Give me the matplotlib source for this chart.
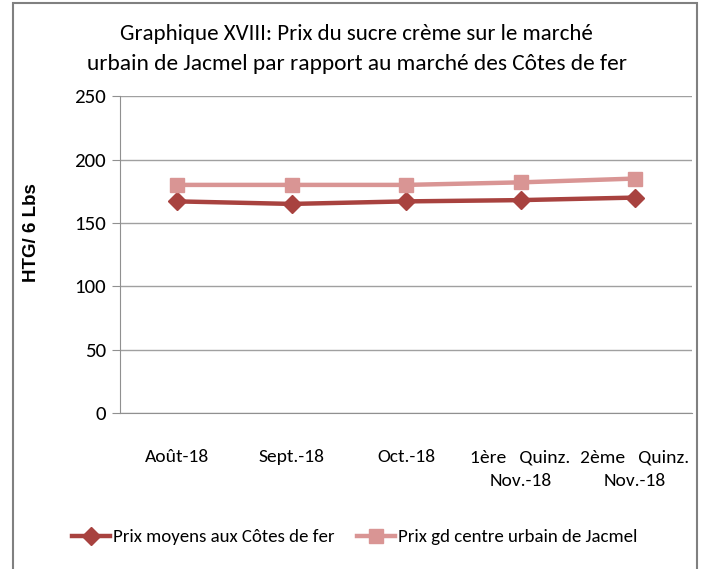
import numpy as np
import matplotlib.pyplot as plt
from matplotlib.patches import Rectangle

# données
categories = ['Août-18', 'Sept.-18', 'Oct.-18', '1ère   Quinz.\nNov.-18', '2ème   Quinz.\nNov.-18']
prix_cotes_de_fer = [167, 165, 167, 168, 170]
prix_jacmel = [180, 180, 180, 182, 185]

plt.rcParams['font.family'] = ['Carlito', 'DejaVu Sans']

fig = plt.figure(figsize=(7.02, 5.69), dpi=100)
ax = fig.add_axes([0.171, 0.274, 0.815, 0.557])

x = np.arange(len(categories))
dark = '#A8423F'
light = '#D99594'
ax.plot(x, prix_cotes_de_fer, color=dark, lw=3.2, marker='D', markersize=9.5,
        label='Prix moyens aux Côtes de fer')
ax.plot(x, prix_jacmel, color=light, lw=3.2, marker='s', markersize=10,
        label='Prix gd centre urbain de Jacmel')

ax.set_xlim(-0.5, len(categories) - 0.5)
ax.set_ylim(0, 250)
ax.set_yticks(range(0, 251, 50))
ax.grid(axis='y', color='#a0a0a0', lw=1)
ax.set_axisbelow(True)
for s in ['top', 'right']:
    ax.spines[s].set_visible(False)
ax.spines['left'].set_color('#909090')
ax.spines['bottom'].set_color('#909090')
ax.tick_params(axis='y', length=6, color='#909090', labelsize=15, pad=4)
ax.set_xticks(x)
ax.set_xticklabels(categories, fontsize=14, linespacing=1.6)
ax.tick_params(axis='x', length=0, pad=26)

ax.set_ylabel('HTG/ 6 Lbs', fontsize=13.5, fontweight='bold',
              family=['Liberation Sans', 'DejaVu Sans'])
ax.yaxis.set_label_coords(-0.14, 0.571)

fig.text(0.508, 0.94, 'Graphique XVIII: Prix du sucre crème sur le marché',
         ha='center', va='center', fontsize=16.5)
fig.text(0.508, 0.888, 'urbain de Jacmel par rapport au marché des Côtes de fer',
         ha='center', va='center', fontsize=16.8)

fig.legend(loc='center', bbox_to_anchor=(0.505, 0.056), ncol=2, frameon=False,
           fontsize=13.6, handlelength=2.0, columnspacing=1.2, handletextpad=0.15)

fig.patches.append(Rectangle((0.019, -0.02), 0.974, 1.014, transform=fig.transFigure,
                             fill=False, edgecolor='#808080', lw=1.5))

fig.savefig('out.png', dpi=100)
